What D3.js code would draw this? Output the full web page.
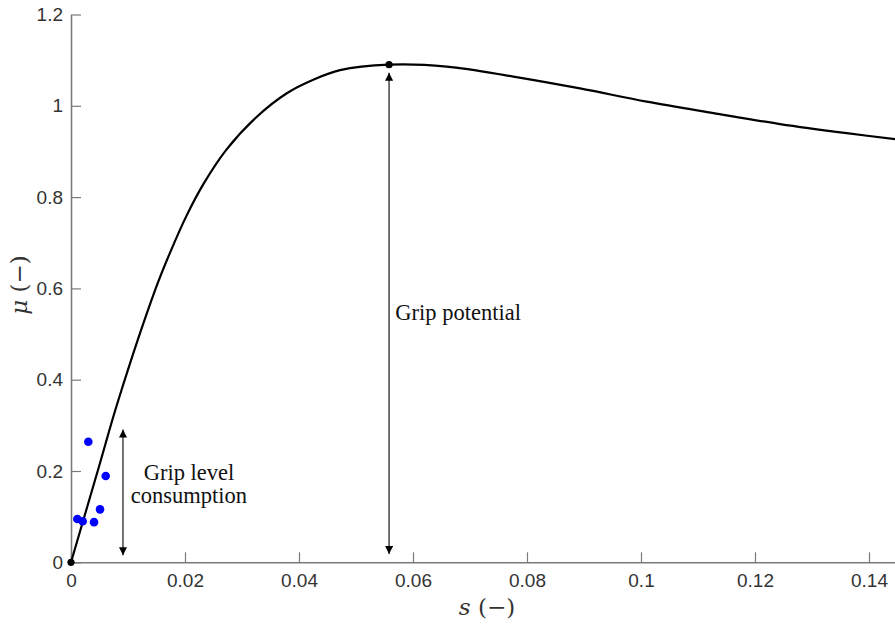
<!DOCTYPE html>
<html>
<head>
<meta charset="utf-8">
<script src="https://cdn.jsdelivr.net/npm/d3@7"></script>
<style>
  html, body { margin: 0; padding: 0; background: #fff; }
  svg { display: block; }
</style>
</head>
<body>
<svg id="chart" width="895" height="625"></svg>
<script>
// ---- data ----
const slipValues = [0, 0.0048, 0.0083, 0.0149, 0.0174, 0.0203, 0.0233, 0.0272, 0.0326, 0.0378, 0.0425, 0.0472, 0.0558, 0.0659, 0.0776, 0.0893, 0.1010, 0.1127, 0.1244, 0.1361, 0.1446];
const muValues   = [0, 0.205, 0.355, 0.601, 0.679, 0.760, 0.830, 0.903, 0.976, 1.027, 1.057, 1.078, 1.090, 1.086, 1.064, 1.038, 1.009, 0.984, 0.960, 0.940, 0.927];

const sampleSlip = [0.00304, 0.00609, 0.00509, 0.00111, 0.00205, 0.00404];
const sampleMu   = [0.264, 0.189, 0.116, 0.095, 0.090, 0.088];

const keyPointSlip = [0, 0.0558];
const keyPointMu   = [0, 1.090];

const xTicks = [0, 0.02, 0.04, 0.06, 0.08, 0.1, 0.12, 0.14];
const yTicks = [0, 0.2, 0.4, 0.6, 0.8, 1, 1.2];

const arrowSlip  = [0.00912, 0.0558];
const arrowMuTop = [0.291, 1.0725];
const arrowMuBot = [0.0153, 0.018];

const noteTexts = [["Grip level", "consumption"], ["Grip potential"]];
const noteSlip  = [0.0207, 0.0569];
const noteMu    = [0.180, 0.531];

// ---- chart ----
const svg = d3.select("#chart");
const x = d3.scaleLinear().domain([0, 0.145]).range([71, 897.5]);
const y = d3.scaleLinear().domain([0, 1.2]).range([562.3, 14.5]);

const axisColor = "#7a7a7a";
const tickTextColor = "#333";

const fmt = d3.format("~g");

const gx = svg.append("g").attr("transform", `translate(0,${y(0)})`)
  .call(d3.axisBottom(x).tickValues(xTicks).tickFormat(fmt).tickSizeInner(-10).tickSizeOuter(0).tickPadding(11));
const gy = svg.append("g").attr("transform", `translate(${x(0)},0)`)
  .call(d3.axisLeft(y).tickValues(yTicks).tickFormat(fmt).tickSizeInner(-10).tickSizeOuter(0).tickPadding(8));

[gx, gy].forEach(g => {
  g.select(".domain").attr("stroke", axisColor).attr("stroke-width", 1.6);
  g.selectAll(".tick line").attr("stroke", axisColor).attr("stroke-width", 1.2);
  g.selectAll(".tick text")
    .attr("fill", tickTextColor)
    .style("font-family", "'Liberation Sans', Arial, sans-serif")
    .style("font-size", "19px");
});

// axis labels
const xl = svg.append("text")
  .attr("x", 487).attr("y", 615)
  .attr("text-anchor", "middle")
  .attr("fill", "#333")
  .style("font-family", "'DejaVu Serif', 'Liberation Serif', serif")
  .style("font-size", "23px");
xl.append("tspan").style("font-style", "italic").text("s");
xl.append("tspan").text(" (\u2212)");

const yl = svg.append("text")
  .attr("transform", "translate(27,285) rotate(-90)")
  .attr("text-anchor", "middle")
  .attr("fill", "#333")
  .style("font-family", "'DejaVu Serif', 'Liberation Serif', serif")
  .style("font-size", "23px");
yl.append("tspan").style("font-style", "italic").text("\u03BC");
yl.append("tspan").text(" (\u2212)");

// curve
const curveData = slipValues.map((s, i) => [s, muValues[i]]);
svg.append("path")
  .datum(curveData)
  .attr("fill", "none")
  .attr("stroke", "#000")
  .attr("stroke-width", 2.2)
  .attr("d", d3.line().x(d => x(d[0])).y(d => y(d[1])).curve(d3.curveCatmullRom.alpha(0.5)));

// arrows
const defs = svg.append("defs");
defs.append("marker")
  .attr("id", "head")
  .attr("viewBox", "0 0 10 10")
  .attr("refX", 10).attr("refY", 5)
  .attr("markerUnits", "userSpaceOnUse")
  .attr("markerWidth", 9).attr("markerHeight", 8)
  .attr("orient", "auto-start-reverse")
  .append("path").attr("d", "M0,0 L10,5 L0,10 Z").attr("fill", "#000");

arrowSlip.forEach((s, i) => {
  svg.append("line")
    .attr("x1", x(s)).attr("x2", x(s))
    .attr("y1", y(arrowMuTop[i])).attr("y2", y(arrowMuBot[i]))
    .attr("stroke", "#000").attr("stroke-width", 1.1)
    .attr("marker-start", "url(#head)")
    .attr("marker-end", "url(#head)");
});

// sample points
svg.selectAll("circle.sample")
  .data(sampleSlip.map((s, i) => [s, sampleMu[i]]))
  .enter().append("circle")
  .attr("class", "sample")
  .attr("cx", d => x(d[0])).attr("cy", d => y(d[1]))
  .attr("r", 4.3).attr("fill", "#0000ff");

// key points
svg.selectAll("circle.key")
  .data(keyPointSlip.map((s, i) => [s, keyPointMu[i]]))
  .enter().append("circle")
  .attr("class", "key")
  .attr("cx", d => x(d[0])).attr("cy", d => y(d[1]))
  .attr("r", 3.6).attr("fill", "#000");

// notes
noteTexts.forEach((lines, i) => {
  const t = svg.append("text")
    .attr("x", x(noteSlip[i])).attr("y", y(noteMu[i]))
    .attr("text-anchor", lines.length > 1 ? "middle" : "start")
    .attr("fill", "#111")
    .style("font-family", "'Liberation Serif', 'Times New Roman', serif")
    .style("font-size", "22.5px");
  lines.forEach((ln, j) => {
    t.append("tspan").attr("x", x(noteSlip[i])).attr("dy", j === 0 ? 0 : 22.7).text(ln);
  });
});
</script>
</body>
</html>
